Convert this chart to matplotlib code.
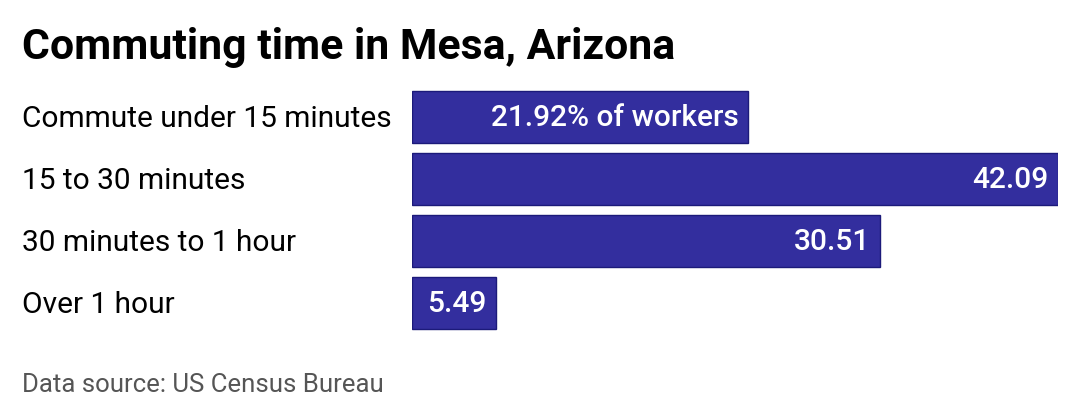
import matplotlib.pyplot as plt

plt.rcParams['font.family'] = ['Roboto', 'DejaVu Sans']

# data
categories = ['Commute under 15 minutes', '15 to 30 minutes',
              '30 minutes to 1 hour', 'Over 1 hour']
values = [21.92, 42.09, 30.51, 5.49]
value_labels = ['21.92% of workers', '42.09', '30.51', '5.49']

fig = plt.figure(figsize=(10.8, 4.2), dpi=100)
ax = fig.add_axes([412 / 1080, 1 - 334 / 420, 646 / 1080, 248 / 420])

ypos = list(range(len(values)))
ax.barh(ypos, values, height=0.84, color='#332e9e', edgecolor='#1c1a7a', linewidth=1)
ax.set_xlim(0, max(values))
ax.set_ylim(len(values) - 0.5, -0.5)
ax.axis('off')

for y, v, lab in zip(ypos, values, value_labels):
    ax.annotate(lab, (v, y), xytext=(-10, -1), textcoords='offset pixels',
                ha='right', va='center', color='white', fontsize=21.5, fontweight='medium')

for y, cat in zip(ypos, categories):
    ax.annotate(cat, (0, y), xycoords=('figure fraction', 'data'),
                xytext=(22, -2), textcoords='offset pixels',
                ha='left', va='center', color='black', fontsize=21.5)

fig.text(22 / 1080, 1 - 47 / 420, 'Commuting time in Mesa, Arizona',
         fontsize=30.8, fontweight='bold', ha='left', va='center')
fig.text(22 / 1080, 1 - 385 / 420, 'Data source: US Census Bureau',
         fontsize=18.5, color='#555555', ha='left', va='center')

fig.savefig('out.png', dpi=100, facecolor='white')
